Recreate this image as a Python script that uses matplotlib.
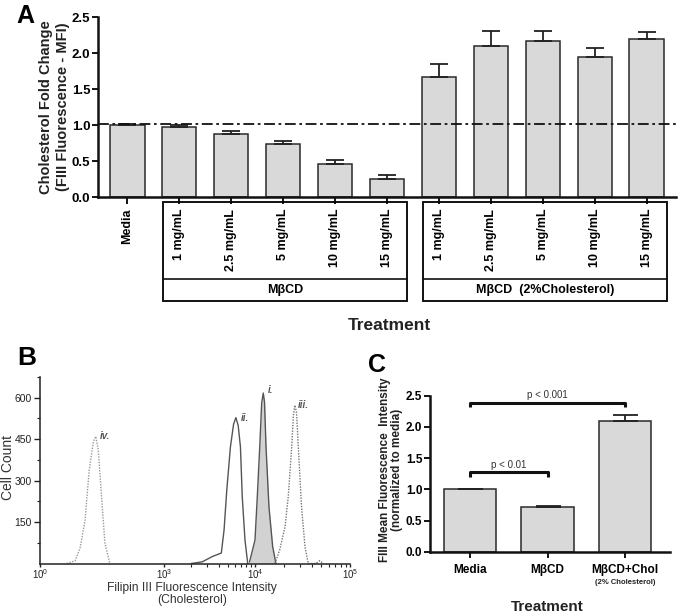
import numpy as np
import matplotlib
matplotlib.use('Agg')
import matplotlib.pyplot as plt
from matplotlib.patches import Rectangle
from matplotlib.transforms import blended_transform_factory

plt.rcParams['font.family'] = ['Liberation Sans', 'DejaVu Sans']
plt.rcParams['mathtext.fontset'] = 'custom'
plt.rcParams['mathtext.rm'] = 'Liberation Sans'
plt.rcParams['mathtext.default'] = 'regular'

W, H = 679, 615

# --- Panel A: fold change per treatment ---
a_labels = ['Media', '1 mg/mL', '2.5 mg/mL', '5 mg/mL', '10 mg/mL', '15 mg/mL',
            '1 mg/mL', '2.5 mg/mL', '5 mg/mL', '10 mg/mL', '15 mg/mL']
a_values = [1.00, 0.97, 0.87, 0.73, 0.46, 0.25, 1.67, 2.10, 2.16, 1.94, 2.20]
a_errors = [0.01, 0.03, 0.05, 0.05, 0.05, 0.05, 0.18, 0.21, 0.14, 0.13, 0.09]
a_groups = ['M\u03b2CD', 'M\u03b2CD  (2%Cholesterol)']
a_group_span = [(1, 5), (6, 10)]
a_ref = 1.02

# --- Panel B: flow histograms (x in log10 fluorescence) ---
b_i_x = [3.94, 4.00, 4.024, 4.05, 4.07, 4.087, 4.10, 4.116, 4.147, 4.186, 4.22]
b_i_y = [6, 85, 241, 422, 580, 617, 585, 422, 205, 61, 0]
b_ii_x = [3.30, 3.42, 3.53, 3.63, 3.66, 3.69, 3.73, 3.765, 3.79, 3.815, 3.84, 3.86, 3.89, 3.92]
b_ii_y = [0, 6, 25, 38, 121, 266, 422, 505, 528, 500, 422, 241, 85, 0]
b_iii_x = [4.21, 4.26, 4.316, 4.35, 4.386, 4.405, 4.42, 4.437, 4.456, 4.49, 4.526, 4.56,
           4.64, 4.68, 4.72]
b_iii_y = [0, 49, 133, 241, 422, 540, 573, 545, 422, 205, 61, 0, 0, 10, 0]
b_iv_x = [0.65, 0.85, 0.97, 1.09, 1.19, 1.29, 1.35, 1.41, 1.49, 1.57, 1.69]
b_iv_y = [0, 10, 56, 157, 338, 440, 460, 410, 241, 74, 0]
b_tick_u = [0, 3, 4, 5]
b_tick_labels = ['$10^{0}$', '$10^{3}$', '$10^{4}$', '$10^{5}$']

# --- Panel C: normalized MFI ---
c_labels = ['Media', 'M\u03b2CD', 'M\u03b2CD+Chol']
c_values = [1.00, 0.71, 2.10]
c_errors = [0.0, 0.03, 0.09]
c_brackets = [(0, 1, 1.27, 'p < 0.01'), (0, 2, 2.39, 'p < 0.001')]

BAR_FACE = '#d9d9d9'
BAR_EDGE = '#2a2a2a'


def rect(l, t, r, b):
    return [l / W, 1 - b / H, (r - l) / W, (b - t) / H]


def style_axes(ax):
    for s in ['top', 'right']:
        ax.spines[s].set_visible(False)
    for s in ['left', 'bottom']:
        ax.spines[s].set_linewidth(1.8)
        ax.spines[s].set_color('#111111')


fig = plt.figure(figsize=(W / 100, H / 100), dpi=100)

# ---------------- Panel A ----------------
ax_a = fig.add_axes(rect(98, 17, 676, 197))
xa = np.arange(len(a_values))
ax_a.bar(xa, a_values, width=0.67, color=BAR_FACE, edgecolor=BAR_EDGE, linewidth=1.1, zorder=2)
ax_a.errorbar(xa, a_values, yerr=[np.zeros(len(a_errors)), a_errors], fmt='none',
              ecolor='#222222', elinewidth=1.3, capsize=6.5, capthick=1.3, zorder=3)
ax_a.axhline(a_ref, color='#111111', lw=1.3, ls=(0, (6, 2, 1.5, 2)), zorder=4)
ax_a.set_xlim(-0.56, 10.56)
ax_a.set_ylim(0, 2.5)
ax_a.set_yticks([0, 0.5, 1.0, 1.5, 2.0, 2.5])
ax_a.set_yticklabels(['%.1f' % v for v in [0, 0.5, 1.0, 1.5, 2.0, 2.5]],
                     fontsize=9.5, fontweight='bold')
ax_a.set_xticks(xa)
ax_a.set_xticklabels(a_labels, rotation=90, fontsize=9, fontweight='bold', va='top')
ax_a.tick_params(axis='x', length=5, width=1.3, pad=3.5)
ax_a.tick_params(axis='y', length=4, width=1.3, pad=1.5)
style_axes(ax_a)

tr = blended_transform_factory(ax_a.transData, ax_a.transAxes)
for (lo, hi), name in zip(a_group_span, a_groups):
    x0, x1 = lo - 0.3, hi + 0.38
    ax_a.add_patch(Rectangle((x0, -0.578), x1 - x0, 0.55, transform=tr, fill=False,
                             lw=1.4, edgecolor='#111111', clip_on=False))
    ax_a.plot([x0, x1], [-0.456, -0.456], transform=tr, color='#111111', lw=1.2, clip_on=False)
    ax_a.text((x0 + x1) / 2, -0.517, name, transform=tr, ha='center', va='center',
              fontsize=9, fontweight='bold')

fig.text(54.5 / W, 1 - 107 / H, 'Cholesterol Fold Change\n(FIII Fluorescence - MFI)',
         rotation=90, ha='center', va='center', fontsize=10.5, fontweight='bold',
         linespacing=1.3, color='#222222')
fig.text(389 / W, 1 - 326 / H, 'Treatment', ha='center', va='center',
         fontsize=12.5, fontweight='bold', color='#222222')
fig.text(16 / W, 1 - 23 / H, 'A', ha='left', va='baseline', fontsize=18, fontweight='bold')

# ---------------- Panel B ----------------
ax_b = fig.add_axes(rect(40, 377, 350, 563.5))
b_px = [0, 124, 215, 310]


def b_fwd(u):
    return np.interp(u, b_tick_u, b_px)


def b_inv(p):
    return np.interp(p, b_px, b_tick_u)


ax_b.set_xscale('function', functions=(b_fwd, b_inv))
ax_b.fill_between(b_i_x, b_i_y, 0, color='#d2d2d2', lw=0, zorder=1)
ax_b.plot(b_i_x, b_i_y, color='#555555', lw=1.0, zorder=2)
ax_b.plot(b_ii_x, b_ii_y, color='#555555', lw=1.0, zorder=2)
ax_b.plot(b_iii_x, b_iii_y, color='#777777', lw=1.0, ls=(0, (1, 1)), zorder=2)
ax_b.plot(b_iv_x, b_iv_y, color='#9a9a9a', lw=1.0, ls=(0, (1, 1)), zorder=2)
for x, y, t in [(4.13, 627, 'i.'), (3.84, 526, 'ii.'), (4.45, 573, 'iii.'), (1.45, 461, 'iv.')]:
    ax_b.text(x, y, t, fontsize=7, fontstyle='italic', fontweight='bold', color='#555555',
              ha='left', va='center')
ax_b.set_xlim(0, 5)
ax_b.set_ylim(0, 675)
ax_b.set_xticks(b_tick_u)
ax_b.set_xticklabels(b_tick_labels, fontsize=7)
ax_b.set_xticks([d + np.log10(k) for d in (3, 4) for k in range(2, 10)], minor=True)
ax_b.set_yticks([150, 300, 450, 600])
ax_b.set_yticklabels(['150', '300', '450', '600'], fontsize=7.5)
ax_b.set_yticks([75, 225, 375, 525, 675], minor=True)
ax_b.tick_params(axis='y', which='major', length=4, width=1.0, pad=2, colors='#222222')
ax_b.tick_params(axis='x', which='major', length=2, width=1.0, pad=0.5, colors='#222222')
ax_b.tick_params(axis='both', which='minor', length=2, width=0.8, colors='#222222')
for s in ['top', 'right']:
    ax_b.spines[s].set_visible(False)
for s in ['left', 'bottom']:
    ax_b.spines[s].set_linewidth(1.1)
    ax_b.spines[s].set_color('#222222')

fig.text(8 / W, 1 - 468 / H, 'Cell Count', rotation=90, ha='center', va='center',
         fontsize=10, color='#333333')
fig.text(192 / W, 1 - 594 / H, 'Filipin III Fluorescence Intensity\n(Cholesterol)',
         ha='center', va='center', fontsize=8.7, linespacing=1.1, color='#333333')
fig.text(17 / W, 1 - 365 / H, 'B', ha='left', va='baseline', fontsize=19, fontweight='bold')

# ---------------- Panel C ----------------
ax_c = fig.add_axes(rect(430, 395.7, 670, 551.7))
xc = np.arange(len(c_values))
ax_c.bar(xc, c_values, width=0.68, color=BAR_FACE, edgecolor=BAR_EDGE, linewidth=1.1, zorder=2)
ax_c.errorbar(xc, c_values, yerr=[np.zeros(len(c_errors)), c_errors], fmt='none',
              ecolor='#222222', elinewidth=1.3, capsize=9, capthick=1.3, zorder=3)
for x0, x1, y, txt in c_brackets:
    ax_c.plot([x0, x0, x1, x1], [y - 0.07, y, y, y - 0.07], color='#111111', lw=2.2,
              clip_on=False, solid_capstyle='butt')
    ax_c.text((x0 + x1) / 2, y + 0.04, txt, ha='center', va='bottom', fontsize=7,
              color='#333333', clip_on=False)
ax_c.set_xlim(-0.516, 2.58)
ax_c.set_ylim(0, 2.5)
ax_c.set_yticks([0, 0.5, 1.0, 1.5, 2.0, 2.5])
ax_c.set_yticklabels(['%.1f' % v for v in [0, 0.5, 1.0, 1.5, 2.0, 2.5]],
                     fontsize=8.5, fontweight='bold')
ax_c.set_xticks(xc)
ax_c.set_xticklabels(c_labels, fontsize=8.5, fontweight='bold')
ax_c.tick_params(axis='x', length=4, width=1.3, pad=5)
ax_c.tick_params(axis='y', length=4, width=1.3, pad=1.5)
style_axes(ax_c)
trc = blended_transform_factory(ax_c.transData, ax_c.transAxes)
ax_c.text(2, -0.2, '(2% Cholesterol)', transform=trc, ha='center', va='center',
          fontsize=5.5, fontweight='bold', color='#222222')

fig.text(391 / W, 1 - 470 / H, 'FIII Mean Fluorescence  Intensity\n(normalized to media)',
         rotation=90, ha='center', va='center', fontsize=8.5, fontweight='bold',
         linespacing=1.05, color='#222222')
fig.text(547 / W, 1 - 607 / H, 'Treatment', ha='center', va='center',
         fontsize=11, fontweight='bold', color='#222222')
fig.text(368 / W, 1 - 372 / H, 'C', ha='left', va='baseline', fontsize=18, fontweight='bold')

fig.savefig('out.png', dpi=100)
